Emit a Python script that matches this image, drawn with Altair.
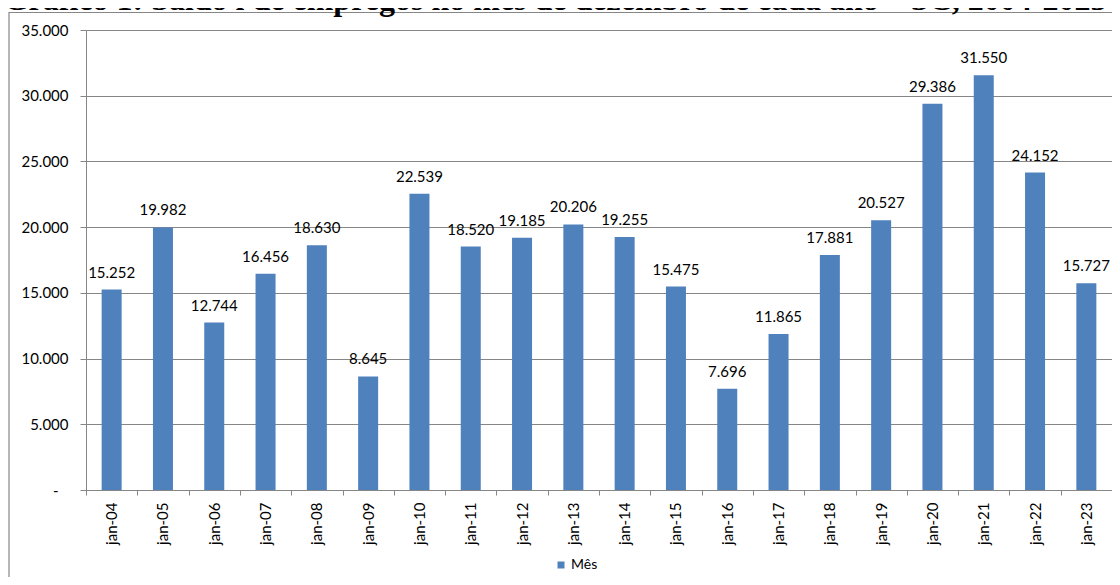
import altair as alt
import pandas as pd

# ---- data ----
meses = ["jan-04", "jan-05", "jan-06", "jan-07", "jan-08", "jan-09", "jan-10",
         "jan-11", "jan-12", "jan-13", "jan-14", "jan-15", "jan-16", "jan-17",
         "jan-18", "jan-19", "jan-20", "jan-21", "jan-22", "jan-23"]
saldos = [15252, 19982, 12744, 16456, 18630, 8645, 22539, 18520, 19185, 20206,
          19255, 15475, 7696, 11865, 17881, 20527, 29386, 31550, 24152, 15727]
serie_nome = "Mês"
y_ticks = [0, 5000, 10000, 15000, 20000, 25000, 30000, 35000]
titulo = "Gráfico 1: Saldo i de empregos no mês de dezembro de cada ano – SC, 2004-2023"

df = pd.DataFrame({"mes": meses, "saldo": saldos, "serie": [serie_nome] * len(meses)})
one = pd.DataFrame({"k": [0]})

BLUE = "#4F81BD"
GRAY = "#868686"
W, H = 1026, 460
STEP = W / len(meses)

x_enc = alt.X(
    "mes:N", sort=meses, title=None,
    scale=alt.Scale(paddingInner=0.61, paddingOuter=0.305, align=0.5, round=False),
    axis=alt.Axis(labelAngle=-90, labelFont="Lato", labelFontSize=15, labelColor="#000000",
                  tickSize=5, tickOffset=-STEP / 2, labelOffset=STEP / 2, labelPadding=7,
                  domainColor=GRAY, tickColor=GRAY, grid=False),
)
y_enc = alt.Y(
    "saldo:Q", title=None,
    scale=alt.Scale(domain=[0, 35000], nice=False),
    axis=alt.Axis(values=y_ticks, tickSize=6,
                  labelPadding={"condition": {"test": "datum.value == 0", "value": 22}, "value": 12},
                  labelFont="Lato", labelFontSize=15, labelColor="#000000", domainColor=GRAY,
                  tickColor=GRAY, gridColor=GRAY, grid=True,
                  labelExpr="datum.value == 0 ? '-' : replace(format(datum.value, ',d'), ',', '.')"),
)

base = alt.Chart(df)

bars = base.mark_bar().encode(
    x=x_enc, y=y_enc,
    color=alt.Color("serie:N", scale=alt.Scale(domain=[serie_nome], range=[BLUE]),
                    legend=alt.Legend(title=None, orient="none", legendX=468, legendY=528,
                                      symbolType="square", symbolSize=49, symbolStrokeWidth=0,
                                      labelFont="Lato", labelFontSize=14, labelColor="#000000",
                                      labelOffset=3, padding=0)),
)

labels = base.transform_calculate(
    rotulo="replace(format(datum.saldo, ',d'), ',', '.')"
).mark_text(baseline="alphabetic", dy=-12, font="Lato", fontSize=15, color="#000000").encode(
    x=alt.X("mes:N", sort=meses), y="saldo:Q", text="rotulo:N"
)

frame = alt.Chart(one).mark_rect(fillOpacity=0, stroke=GRAY, strokeWidth=1.2).encode(
    x=alt.value(-77), x2=alt.value(1200), y=alt.value(-17.5), y2=alt.value(700)
)

title = alt.Chart(one).mark_text(
    font="Liberation Serif", fontWeight="bold", fontSize=32, align="center",
    baseline="alphabetic", color="#000000"
).encode(x=alt.value(469), y=alt.value(-20), text=alt.value(titulo))

chart = alt.layer(frame, bars, labels, title).properties(
    width=W, height=H,
    padding={"left": 78, "top": 22, "right": 0, "bottom": 87},
    autosize=alt.AutoSizeParams(type="none"),
).configure_view(stroke=None).configure(background="white")

chart.save("out.html", embed_options={"renderer": "svg", "actions": False})
